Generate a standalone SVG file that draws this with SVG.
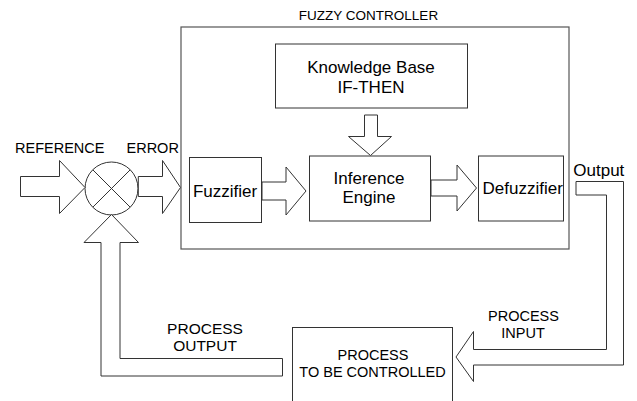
<svg xmlns="http://www.w3.org/2000/svg" width="637" height="401" viewBox="0 0 637 401">
<style>
.box{fill:#fff;stroke:#333;stroke-width:1}
.frame{fill:none;stroke:#555;stroke-width:1.2}
.arr{fill:#fff;stroke:#333;stroke-width:1;stroke-linejoin:miter}
text{font-family:"Liberation Sans",Arial,sans-serif;fill:#000}
.c{text-anchor:middle}
.t17{font-size:17px}
.t14{font-size:14.5px}
</style>
<rect width="637" height="401" fill="#fff"/>
<g id="fuzzy-controller">
<rect class="frame" x="181" y="27" width="388" height="222"/>
<text class="c" x="368.5" y="20" style="font-size:13.5px">FUZZY CONTROLLER</text>
</g>
<g id="knowledge-base">
<rect class="box" x="275.5" y="44" width="192" height="64"/>
<text class="c t17" x="371" y="73">Knowledge Base</text>
<text class="c t17" x="371" y="93">IF-THEN</text>
</g>
<g id="fuzzifier">
<rect class="box" x="189.5" y="157.5" width="72" height="65"/>
<text class="c t17" x="225" y="197">Fuzzifier</text>
</g>
<g id="inference-engine">
<rect class="box" x="309.5" y="156" width="121" height="65"/>
<text class="c t17" x="369" y="184">Inference</text>
<text class="c t17" x="369" y="203">Engine</text>
</g>
<g id="defuzzifier">
<rect class="box" x="478.5" y="156" width="85" height="65"/>
<text class="t17" x="482.5" y="194">Defuzzifier</text>
</g>
<g id="summing-junction">
<circle class="box" cx="111.5" cy="188.5" r="26.5"/>
<path d="M92.8 169.8 L130.2 207.2 M130.2 169.8 L92.8 207.2" stroke="#333" stroke-width="1" fill="none"/>
</g>
<g id="process">
<rect class="box" x="292.5" y="327.5" width="160" height="90"/>
<text class="c t14" x="373" y="359.5">PROCESS</text>
<text class="c t14" x="372.5" y="376.5">TO BE CONTROLLED</text>
</g>
<g id="connectors">
<polygon class="arr" points="20.5,176.5 59.5,176.5 59.5,160.5 85,187.5 59.5,213.5 59.5,196.5 20.5,196.5"/>
<polygon class="arr" points="138.3,176.5 162.5,176.5 162.5,160.5 180.5,187.5 162.5,213.5 162.5,196.5 138.3,196.5"/>
<polygon class="arr" points="262,182 286,182 286,167 306,191 286,215 286,200 262,200"/>
<polygon class="arr" points="431,180 457,180 457,165 476.5,188 457,211 457,196 431,196"/>
<polygon class="arr" points="364.5,115 377.5,115 377.5,136.5 391.5,136.5 370.5,155.5 348.5,136.5 364.5,136.5"/>
<polygon class="arr" points="576,181.5 623.5,181.5 623.5,365 473.5,365 473.5,381.5 456,357 473.5,331.5 473.5,349.5 606.5,349.5 606.5,195 576,195"/>
<polygon class="arr" points="282.5,358.5 120,358.5 120,242.5 138.5,242.5 111.5,214.5 84,242.5 101,242.5 101,376 282.5,376"/>
</g>
<g id="labels">
<text class="t14" x="15" y="152.7">REFERENCE</text>
<text class="t14" x="126.5" y="152.7">ERROR</text>
<text class="t17" x="573.3" y="176">Output</text>
<text class="c t14" x="205" y="333.5" style="font-size:15.5px">PROCESS</text>
<text class="c t14" x="205" y="350.7" style="font-size:15.5px">OUTPUT</text>
<text class="c t14" x="523.5" y="320.7">PROCESS</text>
<text class="c t14" x="523" y="337.7">INPUT</text>
</g>
</svg>
